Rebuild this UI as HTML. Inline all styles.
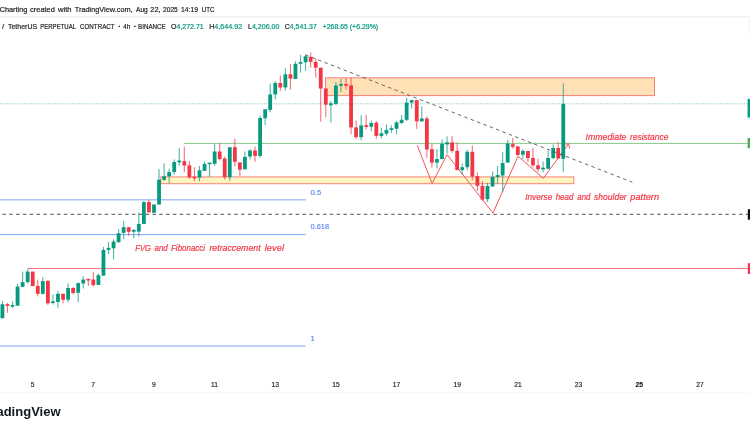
<!DOCTYPE html>
<html><head><meta charset="utf-8">
<style>
html,body{margin:0;padding:0;background:#fff;}
body{width:750px;height:430px;overflow:hidden;font-family:"Liberation Sans",sans-serif;}
svg{display:block;font-family:"Liberation Sans",sans-serif;will-change:transform;}
</style></head><body>
<svg width="750" height="430" viewBox="0 0 750 430">
<rect width="750" height="430" fill="#fff"/>
<!-- separators -->
<rect x="0" y="16.4" width="750" height="1" fill="#e9eaee"/>
<line x1="0" y1="392.5" x2="750" y2="392.5" stroke="#f0f2f5" stroke-width="1" stroke-dasharray="1 1"/>
<rect x="748.8" y="20" width="2" height="14" fill="#f0f3fa"/>
<!-- header -->
<text x="-0.3" y="12" font-size="7.9" fill="#262626" stroke="#262626" stroke-width="0.22" textLength="27.6" lengthAdjust="spacingAndGlyphs">Charting</text>
<text x="30.1" y="12" font-size="7.9" fill="#262626" stroke="#262626" stroke-width="0.22" textLength="24.8" lengthAdjust="spacingAndGlyphs">created</text>
<text x="58.1" y="12" font-size="7.9" fill="#262626" stroke="#262626" stroke-width="0.22" textLength="13.5" lengthAdjust="spacingAndGlyphs">with</text>
<text x="74.8" y="12" font-size="7.9" fill="#262626" stroke="#262626" stroke-width="0.22" textLength="57.8" lengthAdjust="spacingAndGlyphs">TradingView.com,</text>
<text x="136.0" y="12" font-size="7.9" fill="#262626" stroke="#262626" stroke-width="0.22" textLength="11.8" lengthAdjust="spacingAndGlyphs">Aug</text>
<text x="150.3" y="12" font-size="7.9" fill="#262626" stroke="#262626" stroke-width="0.22" textLength="10.3" lengthAdjust="spacingAndGlyphs">22,</text>
<text x="163.1" y="12" font-size="7.9" fill="#262626" stroke="#262626" stroke-width="0.22" textLength="14.7" lengthAdjust="spacingAndGlyphs">2025</text>
<text x="181.1" y="12" font-size="7.9" fill="#262626" stroke="#262626" stroke-width="0.22" textLength="16.9" lengthAdjust="spacingAndGlyphs">14:19</text>
<text x="201.7" y="12" font-size="7.9" fill="#262626" stroke="#262626" stroke-width="0.22" textLength="12.7" lengthAdjust="spacingAndGlyphs">UTC</text>
<text x="2.0" y="28.8" font-size="7.9" fill="#262626" stroke="#262626" stroke-width="0.22">/</text>
<text x="8.0" y="28.8" font-size="7.9" fill="#262626" stroke="#262626" stroke-width="0.22" textLength="29.1" lengthAdjust="spacingAndGlyphs">TetherUS</text>
<text x="40.2" y="28.8" font-size="7.9" fill="#262626" stroke="#262626" stroke-width="0.22" textLength="35.9" lengthAdjust="spacingAndGlyphs">PERPETUAL</text>
<text x="80.0" y="28.8" font-size="7.9" fill="#262626" stroke="#262626" stroke-width="0.22" textLength="34.6" lengthAdjust="spacingAndGlyphs">CONTRACT</text>
<text x="123.2" y="28.8" font-size="7.9" fill="#262626" stroke="#262626" stroke-width="0.22" textLength="6.9" lengthAdjust="spacingAndGlyphs">4h</text>
<text x="138.1" y="28.8" font-size="7.9" fill="#262626" stroke="#262626" stroke-width="0.22" textLength="27.6" lengthAdjust="spacingAndGlyphs">BINANCE</text>
<rect x="118.5" y="25.7" width="1.4" height="1.4" fill="#262626"/><rect x="134.2" y="25.7" width="1.4" height="1.4" fill="#262626"/>
<text x="171.1" y="28.8" font-size="7.9" fill="#262626" stroke="#262626" stroke-width="0.22" textLength="32.6" lengthAdjust="spacingAndGlyphs">O<tspan fill="#089981" stroke="#089981">4,272.71</tspan></text>
<text x="209.2" y="28.8" font-size="7.9" fill="#262626" stroke="#262626" stroke-width="0.22" textLength="32.9" lengthAdjust="spacingAndGlyphs">H<tspan fill="#089981" stroke="#089981">4,644.92</tspan></text>
<text x="248" y="28.8" font-size="7.9" fill="#262626" stroke="#262626" stroke-width="0.22" textLength="31.5" lengthAdjust="spacingAndGlyphs">L<tspan fill="#089981" stroke="#089981">4,206.00</tspan></text>
<text x="284.8" y="28.8" font-size="7.9" fill="#262626" stroke="#262626" stroke-width="0.22" textLength="32" lengthAdjust="spacingAndGlyphs">C<tspan fill="#089981" stroke="#089981">4,541.37</tspan></text>
<text x="322.7" y="28.8" font-size="7.9" fill="#089981" stroke="#089981" stroke-width="0.22" textLength="55.4" lengthAdjust="spacingAndGlyphs">+268.65 (+6.29%)</text>


<!-- zones -->
<rect x="325.5" y="77.8" width="329" height="17.8" fill="#ff9800" fill-opacity="0.29" stroke="#f23645" stroke-opacity="0.6" stroke-width="1"/>
<rect x="160.8" y="176.9" width="413" height="6.8" fill="#ffd600" fill-opacity="0.25" stroke="#f23645" stroke-opacity="0.6" stroke-width="1"/>

<!-- horizontal lines -->
<line x1="0" y1="103.8" x2="748" y2="103.8" stroke="#089981" stroke-width="1" stroke-dasharray="1 1.4" opacity="0.55"/>
<line x1="184" y1="143.4" x2="748" y2="143.4" stroke="#86c989" stroke-width="1"/>
<line x1="0" y1="199.85" x2="305.8" y2="199.85" stroke="#7fa4f6" stroke-width="1"/>
<line x1="0" y1="234.6" x2="305.8" y2="234.6" stroke="#7fa4f6" stroke-width="1"/>
<line x1="0" y1="346" x2="305.8" y2="346" stroke="#7fa4f6" stroke-width="1"/>
<line x1="2.4" y1="214.3" x2="748" y2="214.3" stroke="#505050" stroke-width="1" stroke-dasharray="3.5 3.32"/>
<line x1="27.7" y1="268.6" x2="748" y2="268.6" stroke="#f4707b" stroke-width="1"/>

<!-- fib labels -->
<text x="310.6" y="195" font-size="7.6" fill="#5585f2" stroke="#5585f2" stroke-width="0.15">0.5</text>
<text x="310.6" y="229.4" font-size="7.6" fill="#5585f2" stroke="#5585f2" stroke-width="0.15" textLength="18.5" lengthAdjust="spacingAndGlyphs">0.618</text>
<text x="310.6" y="340.9" font-size="7.6" fill="#5585f2" stroke="#5585f2" stroke-width="0.15">1</text>

<!-- pattern -->
<polyline points="417.3,145.4 432.1,183.4 447.1,154.7 493,213.1 518,156.2 543.3,178.3 568.6,143.8" fill="none" stroke="#f4545f" stroke-width="1"/>
<polyline points="565.7,144.2 568.6,143.8 569.8,148.6" fill="none" stroke="#f4545f" stroke-width="1"/>

<!-- candles -->
<rect x="1.85" y="300.9" width="1.1" height="17.8" fill="#089981" opacity="0.7"/>
<rect x="0.50" y="304.3" width="3.8" height="13.8" fill="#089981"/>
<rect x="6.90" y="302.9" width="1.1" height="9.9" fill="#f23645" opacity="0.7"/>
<rect x="5.55" y="304.2" width="3.8" height="1.7" fill="#f23645"/>
<rect x="11.96" y="301.3" width="1.1" height="6.9" fill="#089981" opacity="0.7"/>
<rect x="10.61" y="305.0" width="3.8" height="1.7" fill="#089981"/>
<rect x="17.01" y="283.5" width="1.1" height="22.2" fill="#089981" opacity="0.7"/>
<rect x="15.66" y="286.5" width="3.8" height="19.2" fill="#089981"/>
<rect x="22.06" y="271.6" width="1.1" height="15.3" fill="#089981" opacity="0.7"/>
<rect x="20.71" y="282.1" width="3.8" height="4.8" fill="#089981"/>
<rect x="27.11" y="268.7" width="1.1" height="14.8" fill="#089981" opacity="0.7"/>
<rect x="25.77" y="271.6" width="3.8" height="10.5" fill="#089981"/>
<rect x="32.17" y="271.6" width="1.1" height="14.5" fill="#f23645" opacity="0.7"/>
<rect x="30.82" y="271.6" width="3.8" height="14.5" fill="#f23645"/>
<rect x="37.22" y="279.6" width="1.1" height="16.8" fill="#f23645" opacity="0.7"/>
<rect x="35.87" y="285.9" width="3.8" height="7.9" fill="#f23645"/>
<rect x="42.27" y="277.2" width="1.1" height="17.2" fill="#089981" opacity="0.7"/>
<rect x="40.92" y="281.1" width="3.8" height="12.7" fill="#089981"/>
<rect x="47.33" y="280.1" width="1.1" height="24.8" fill="#f23645" opacity="0.7"/>
<rect x="45.98" y="280.9" width="3.8" height="22.4" fill="#f23645"/>
<rect x="52.38" y="294.4" width="1.1" height="9.9" fill="#089981" opacity="0.7"/>
<rect x="51.03" y="301.3" width="3.8" height="1.7" fill="#089981"/>
<rect x="57.43" y="291.0" width="1.1" height="16.8" fill="#089981" opacity="0.7"/>
<rect x="56.08" y="293.8" width="3.8" height="8.1" fill="#089981"/>
<rect x="62.49" y="293.8" width="1.1" height="9.5" fill="#f23645" opacity="0.7"/>
<rect x="61.14" y="293.8" width="3.8" height="5.9" fill="#f23645"/>
<rect x="67.54" y="283.5" width="1.1" height="18.8" fill="#089981" opacity="0.7"/>
<rect x="66.19" y="288.0" width="3.8" height="11.7" fill="#089981"/>
<rect x="72.59" y="287.0" width="1.1" height="7.4" fill="#f23645" opacity="0.7"/>
<rect x="71.24" y="288.0" width="3.8" height="5.0" fill="#f23645"/>
<rect x="77.65" y="282.5" width="1.1" height="19.4" fill="#089981" opacity="0.7"/>
<rect x="76.30" y="283.1" width="3.8" height="9.7" fill="#089981"/>
<rect x="82.70" y="276.2" width="1.1" height="12.3" fill="#089981" opacity="0.7"/>
<rect x="81.35" y="279.6" width="3.8" height="3.9" fill="#089981"/>
<rect x="87.75" y="279.2" width="1.1" height="6.7" fill="#f23645" opacity="0.7"/>
<rect x="86.40" y="278.8" width="3.8" height="1.7" fill="#f23645"/>
<rect x="92.80" y="272.2" width="1.1" height="14.3" fill="#f23645" opacity="0.7"/>
<rect x="91.45" y="279.6" width="3.8" height="5.5" fill="#f23645"/>
<rect x="97.86" y="273.6" width="1.1" height="11.3" fill="#089981" opacity="0.7"/>
<rect x="96.51" y="275.2" width="3.8" height="9.7" fill="#089981"/>
<rect x="102.91" y="246.9" width="1.1" height="28.7" fill="#089981" opacity="0.7"/>
<rect x="101.56" y="249.9" width="3.8" height="25.7" fill="#089981"/>
<rect x="107.96" y="242.0" width="1.1" height="12.2" fill="#089981" opacity="0.7"/>
<rect x="106.61" y="247.9" width="3.8" height="2.0" fill="#089981"/>
<rect x="113.02" y="239.5" width="1.1" height="19.9" fill="#089981" opacity="0.7"/>
<rect x="111.67" y="241.5" width="3.8" height="6.8" fill="#089981"/>
<rect x="118.07" y="229.2" width="1.1" height="13.8" fill="#089981" opacity="0.7"/>
<rect x="116.72" y="233.2" width="3.8" height="8.9" fill="#089981"/>
<rect x="123.12" y="220.9" width="1.1" height="18.2" fill="#089981" opacity="0.7"/>
<rect x="121.77" y="227.2" width="3.8" height="5.6" fill="#089981"/>
<rect x="128.17" y="227.2" width="1.1" height="8.9" fill="#f23645" opacity="0.7"/>
<rect x="126.82" y="227.2" width="3.8" height="4.6" fill="#f23645"/>
<rect x="133.23" y="228.8" width="1.1" height="9.3" fill="#089981" opacity="0.7"/>
<rect x="131.88" y="230.0" width="3.8" height="1.7" fill="#089981"/>
<rect x="138.28" y="212.4" width="1.1" height="24.3" fill="#089981" opacity="0.7"/>
<rect x="136.93" y="223.9" width="3.8" height="7.7" fill="#089981"/>
<rect x="143.33" y="200.9" width="1.1" height="23.0" fill="#089981" opacity="0.7"/>
<rect x="141.98" y="202.1" width="3.8" height="21.8" fill="#089981"/>
<rect x="148.39" y="200.1" width="1.1" height="12.3" fill="#f23645" opacity="0.7"/>
<rect x="147.04" y="202.1" width="3.8" height="10.3" fill="#f23645"/>
<rect x="153.44" y="204.5" width="1.1" height="8.3" fill="#089981" opacity="0.7"/>
<rect x="152.09" y="204.5" width="3.8" height="8.3" fill="#089981"/>
<rect x="158.49" y="169.1" width="1.1" height="35.4" fill="#089981" opacity="0.7"/>
<rect x="157.14" y="179.7" width="3.8" height="24.8" fill="#089981"/>
<rect x="163.55" y="163.2" width="1.1" height="17.6" fill="#089981" opacity="0.7"/>
<rect x="162.20" y="176.3" width="3.8" height="3.5" fill="#089981"/>
<rect x="168.60" y="168.6" width="1.1" height="14.6" fill="#089981" opacity="0.7"/>
<rect x="167.25" y="172.1" width="3.8" height="4.2" fill="#089981"/>
<rect x="173.65" y="159.4" width="1.1" height="15.5" fill="#089981" opacity="0.7"/>
<rect x="172.30" y="162.0" width="3.8" height="10.1" fill="#089981"/>
<rect x="178.70" y="148.0" width="1.1" height="17.7" fill="#089981" opacity="0.7"/>
<rect x="177.35" y="160.6" width="3.8" height="1.7" fill="#089981"/>
<rect x="183.76" y="146.6" width="1.1" height="25.5" fill="#f23645" opacity="0.7"/>
<rect x="182.41" y="161.2" width="3.8" height="4.3" fill="#f23645"/>
<rect x="188.81" y="161.0" width="1.1" height="17.8" fill="#f23645" opacity="0.7"/>
<rect x="187.46" y="165.4" width="3.8" height="11.9" fill="#f23645"/>
<rect x="193.86" y="167.2" width="1.1" height="14.1" fill="#f23645" opacity="0.7"/>
<rect x="192.51" y="176.7" width="3.8" height="1.7" fill="#f23645"/>
<rect x="198.92" y="166.0" width="1.1" height="15.3" fill="#089981" opacity="0.7"/>
<rect x="197.57" y="170.3" width="3.8" height="7.2" fill="#089981"/>
<rect x="203.97" y="161.7" width="1.1" height="9.1" fill="#089981" opacity="0.7"/>
<rect x="202.62" y="163.9" width="3.8" height="6.9" fill="#089981"/>
<rect x="209.02" y="163.0" width="1.1" height="13.9" fill="#089981" opacity="0.7"/>
<rect x="207.67" y="162.6" width="3.8" height="1.7" fill="#089981"/>
<rect x="214.08" y="143.6" width="1.1" height="22.4" fill="#089981" opacity="0.7"/>
<rect x="212.73" y="151.5" width="3.8" height="12.3" fill="#089981"/>
<rect x="219.13" y="143.2" width="1.1" height="17.2" fill="#f23645" opacity="0.7"/>
<rect x="217.78" y="151.5" width="3.8" height="7.5" fill="#f23645"/>
<rect x="224.18" y="156.5" width="1.1" height="23.1" fill="#f23645" opacity="0.7"/>
<rect x="222.83" y="158.5" width="3.8" height="18.7" fill="#f23645"/>
<rect x="229.23" y="147.2" width="1.1" height="33.6" fill="#089981" opacity="0.7"/>
<rect x="227.88" y="147.2" width="3.8" height="30.0" fill="#089981"/>
<rect x="234.29" y="138.7" width="1.1" height="27.7" fill="#f23645" opacity="0.7"/>
<rect x="232.94" y="147.2" width="3.8" height="14.6" fill="#f23645"/>
<rect x="239.34" y="162.4" width="1.1" height="13.9" fill="#f23645" opacity="0.7"/>
<rect x="237.99" y="162.4" width="3.8" height="7.3" fill="#f23645"/>
<rect x="244.39" y="151.5" width="1.1" height="17.8" fill="#089981" opacity="0.7"/>
<rect x="243.04" y="156.9" width="3.8" height="12.4" fill="#089981"/>
<rect x="249.45" y="149.2" width="1.1" height="10.2" fill="#089981" opacity="0.7"/>
<rect x="248.10" y="150.5" width="3.8" height="6.0" fill="#089981"/>
<rect x="254.50" y="146.6" width="1.1" height="15.2" fill="#f23645" opacity="0.7"/>
<rect x="253.15" y="150.5" width="3.8" height="5.4" fill="#f23645"/>
<rect x="259.55" y="115.8" width="1.1" height="41.7" fill="#089981" opacity="0.7"/>
<rect x="258.20" y="118.0" width="3.8" height="37.9" fill="#089981"/>
<rect x="264.61" y="109.3" width="1.1" height="15.8" fill="#089981" opacity="0.7"/>
<rect x="263.26" y="109.3" width="3.8" height="8.9" fill="#089981"/>
<rect x="269.66" y="83.6" width="1.1" height="28.6" fill="#089981" opacity="0.7"/>
<rect x="268.31" y="94.4" width="3.8" height="15.5" fill="#089981"/>
<rect x="274.71" y="81.0" width="1.1" height="18.4" fill="#089981" opacity="0.7"/>
<rect x="273.36" y="83.0" width="3.8" height="11.4" fill="#089981"/>
<rect x="279.76" y="75.3" width="1.1" height="15.6" fill="#f23645" opacity="0.7"/>
<rect x="278.42" y="83.0" width="3.8" height="4.5" fill="#f23645"/>
<rect x="284.82" y="68.3" width="1.1" height="22.2" fill="#089981" opacity="0.7"/>
<rect x="283.47" y="74.3" width="3.8" height="13.2" fill="#089981"/>
<rect x="289.87" y="64.2" width="1.1" height="25.3" fill="#f23645" opacity="0.7"/>
<rect x="288.52" y="74.3" width="3.8" height="4.3" fill="#f23645"/>
<rect x="294.92" y="61.2" width="1.1" height="17.8" fill="#089981" opacity="0.7"/>
<rect x="293.57" y="63.8" width="3.8" height="15.2" fill="#089981"/>
<rect x="299.98" y="54.9" width="1.1" height="17.8" fill="#089981" opacity="0.7"/>
<rect x="298.63" y="62.1" width="3.8" height="1.7" fill="#089981"/>
<rect x="305.03" y="54.5" width="1.1" height="16.2" fill="#089981" opacity="0.7"/>
<rect x="303.68" y="56.3" width="3.8" height="5.9" fill="#089981"/>
<rect x="310.08" y="52.5" width="1.1" height="15.2" fill="#f23645" opacity="0.7"/>
<rect x="308.73" y="56.9" width="3.8" height="4.9" fill="#f23645"/>
<rect x="315.14" y="58.4" width="1.1" height="19.2" fill="#f23645" opacity="0.7"/>
<rect x="313.79" y="61.8" width="3.8" height="5.9" fill="#f23645"/>
<rect x="320.19" y="67.7" width="1.1" height="54.0" fill="#f23645" opacity="0.7"/>
<rect x="318.84" y="67.7" width="3.8" height="20.8" fill="#f23645"/>
<rect x="325.24" y="88.5" width="1.1" height="28.7" fill="#f23645" opacity="0.7"/>
<rect x="323.89" y="88.5" width="3.8" height="16.2" fill="#f23645"/>
<rect x="330.29" y="101.0" width="1.1" height="21.5" fill="#089981" opacity="0.7"/>
<rect x="328.94" y="103.3" width="3.8" height="2.0" fill="#089981"/>
<rect x="335.35" y="82.2" width="1.1" height="23.1" fill="#089981" opacity="0.7"/>
<rect x="334.00" y="85.5" width="3.8" height="18.4" fill="#089981"/>
<rect x="340.40" y="79.0" width="1.1" height="13.1" fill="#089981" opacity="0.7"/>
<rect x="339.05" y="84.0" width="3.8" height="1.7" fill="#089981"/>
<rect x="345.45" y="78.2" width="1.1" height="11.3" fill="#f23645" opacity="0.7"/>
<rect x="344.10" y="84.0" width="3.8" height="1.7" fill="#f23645"/>
<rect x="350.51" y="77.8" width="1.1" height="56.5" fill="#f23645" opacity="0.7"/>
<rect x="349.16" y="85.4" width="3.8" height="42.0" fill="#f23645"/>
<rect x="355.56" y="120.4" width="1.1" height="18.4" fill="#f23645" opacity="0.7"/>
<rect x="354.21" y="127.4" width="3.8" height="9.8" fill="#f23645"/>
<rect x="360.61" y="115.1" width="1.1" height="25.1" fill="#089981" opacity="0.7"/>
<rect x="359.26" y="125.4" width="3.8" height="11.8" fill="#089981"/>
<rect x="365.67" y="115.1" width="1.1" height="14.2" fill="#f23645" opacity="0.7"/>
<rect x="364.32" y="125.2" width="3.8" height="1.7" fill="#f23645"/>
<rect x="370.72" y="120.4" width="1.1" height="10.9" fill="#089981" opacity="0.7"/>
<rect x="369.37" y="123.0" width="3.8" height="3.8" fill="#089981"/>
<rect x="375.77" y="121.0" width="1.1" height="17.8" fill="#f23645" opacity="0.7"/>
<rect x="374.42" y="122.8" width="3.8" height="13.1" fill="#f23645"/>
<rect x="380.82" y="127.8" width="1.1" height="10.4" fill="#089981" opacity="0.7"/>
<rect x="379.48" y="133.3" width="3.8" height="2.6" fill="#089981"/>
<rect x="385.88" y="124.4" width="1.1" height="11.3" fill="#089981" opacity="0.7"/>
<rect x="384.53" y="129.9" width="3.8" height="3.8" fill="#089981"/>
<rect x="390.93" y="125.4" width="1.1" height="7.5" fill="#089981" opacity="0.7"/>
<rect x="389.58" y="128.2" width="3.8" height="1.7" fill="#089981"/>
<rect x="395.98" y="121.0" width="1.1" height="13.3" fill="#089981" opacity="0.7"/>
<rect x="394.63" y="122.4" width="3.8" height="6.3" fill="#089981"/>
<rect x="401.04" y="115.1" width="1.1" height="8.7" fill="#089981" opacity="0.7"/>
<rect x="399.69" y="119.8" width="3.8" height="3.2" fill="#089981"/>
<rect x="406.09" y="97.7" width="1.1" height="23.3" fill="#089981" opacity="0.7"/>
<rect x="404.74" y="102.6" width="3.8" height="17.2" fill="#089981"/>
<rect x="411.14" y="99.7" width="1.1" height="8.9" fill="#089981" opacity="0.7"/>
<rect x="409.79" y="100.1" width="3.8" height="2.5" fill="#089981"/>
<rect x="416.20" y="100.1" width="1.1" height="28.8" fill="#f23645" opacity="0.7"/>
<rect x="414.85" y="100.1" width="3.8" height="21.3" fill="#f23645"/>
<rect x="421.25" y="106.2" width="1.1" height="15.2" fill="#089981" opacity="0.7"/>
<rect x="419.90" y="118.5" width="3.8" height="2.9" fill="#089981"/>
<rect x="426.30" y="116.5" width="1.1" height="41.2" fill="#f23645" opacity="0.7"/>
<rect x="424.95" y="118.5" width="3.8" height="31.0" fill="#f23645"/>
<rect x="431.35" y="143.8" width="1.1" height="23.8" fill="#f23645" opacity="0.7"/>
<rect x="430.00" y="149.2" width="3.8" height="13.4" fill="#f23645"/>
<rect x="436.41" y="149.2" width="1.1" height="19.4" fill="#089981" opacity="0.7"/>
<rect x="435.06" y="159.1" width="3.8" height="3.5" fill="#089981"/>
<rect x="441.46" y="139.4" width="1.1" height="19.7" fill="#089981" opacity="0.7"/>
<rect x="440.11" y="143.9" width="3.8" height="15.2" fill="#089981"/>
<rect x="446.51" y="136.3" width="1.1" height="17.4" fill="#089981" opacity="0.7"/>
<rect x="445.16" y="142.4" width="3.8" height="2.0" fill="#089981"/>
<rect x="451.57" y="136.1" width="1.1" height="16.6" fill="#f23645" opacity="0.7"/>
<rect x="450.22" y="142.4" width="3.8" height="8.5" fill="#f23645"/>
<rect x="456.62" y="142.5" width="1.1" height="27.6" fill="#f23645" opacity="0.7"/>
<rect x="455.27" y="150.8" width="3.8" height="19.3" fill="#f23645"/>
<rect x="461.67" y="163.6" width="1.1" height="10.9" fill="#089981" opacity="0.7"/>
<rect x="460.32" y="167.2" width="3.8" height="2.9" fill="#089981"/>
<rect x="466.73" y="149.8" width="1.1" height="20.3" fill="#089981" opacity="0.7"/>
<rect x="465.38" y="151.8" width="3.8" height="15.4" fill="#089981"/>
<rect x="471.78" y="145.4" width="1.1" height="35.0" fill="#f23645" opacity="0.7"/>
<rect x="470.43" y="151.8" width="3.8" height="24.7" fill="#f23645"/>
<rect x="476.83" y="172.5" width="1.1" height="18.4" fill="#f23645" opacity="0.7"/>
<rect x="475.48" y="176.1" width="3.8" height="9.7" fill="#f23645"/>
<rect x="481.88" y="181.0" width="1.1" height="19.8" fill="#f23645" opacity="0.7"/>
<rect x="480.53" y="185.8" width="3.8" height="13.8" fill="#f23645"/>
<rect x="486.94" y="182.8" width="1.1" height="19.4" fill="#089981" opacity="0.7"/>
<rect x="485.59" y="186.0" width="3.8" height="13.2" fill="#089981"/>
<rect x="491.99" y="171.5" width="1.1" height="15.5" fill="#089981" opacity="0.7"/>
<rect x="490.64" y="176.9" width="3.8" height="9.5" fill="#089981"/>
<rect x="497.04" y="166.0" width="1.1" height="17.8" fill="#089981" opacity="0.7"/>
<rect x="495.69" y="175.1" width="3.8" height="2.0" fill="#089981"/>
<rect x="502.10" y="152.2" width="1.1" height="40.1" fill="#089981" opacity="0.7"/>
<rect x="500.75" y="163.0" width="3.8" height="12.5" fill="#089981"/>
<rect x="507.15" y="139.9" width="1.1" height="22.7" fill="#089981" opacity="0.7"/>
<rect x="505.80" y="143.6" width="3.8" height="19.0" fill="#089981"/>
<rect x="512.20" y="137.9" width="1.1" height="10.9" fill="#f23645" opacity="0.7"/>
<rect x="510.85" y="144.2" width="3.8" height="2.6" fill="#f23645"/>
<rect x="517.26" y="146.4" width="1.1" height="9.3" fill="#f23645" opacity="0.7"/>
<rect x="515.91" y="146.4" width="3.8" height="8.6" fill="#f23645"/>
<rect x="522.31" y="149.2" width="1.1" height="10.2" fill="#089981" opacity="0.7"/>
<rect x="520.96" y="150.9" width="3.8" height="3.8" fill="#089981"/>
<rect x="527.36" y="151.0" width="1.1" height="11.5" fill="#f23645" opacity="0.7"/>
<rect x="526.01" y="151.0" width="3.8" height="7.1" fill="#f23645"/>
<rect x="532.41" y="147.8" width="1.1" height="19.7" fill="#f23645" opacity="0.7"/>
<rect x="531.06" y="158.0" width="3.8" height="7.3" fill="#f23645"/>
<rect x="537.47" y="158.8" width="1.1" height="13.0" fill="#f23645" opacity="0.7"/>
<rect x="536.12" y="165.3" width="3.8" height="3.9" fill="#f23645"/>
<rect x="542.52" y="161.4" width="1.1" height="11.0" fill="#089981" opacity="0.7"/>
<rect x="541.17" y="167.7" width="3.8" height="1.7" fill="#089981"/>
<rect x="547.57" y="150.8" width="1.1" height="18.6" fill="#089981" opacity="0.7"/>
<rect x="546.22" y="158.0" width="3.8" height="10.7" fill="#089981"/>
<rect x="552.63" y="144.4" width="1.1" height="14.8" fill="#089981" opacity="0.7"/>
<rect x="551.28" y="148.0" width="3.8" height="10.1" fill="#089981"/>
<rect x="557.68" y="142.3" width="1.1" height="16.9" fill="#f23645" opacity="0.7"/>
<rect x="556.33" y="148.0" width="3.8" height="10.4" fill="#f23645"/>
<rect x="562.73" y="83.3" width="1.1" height="88.9" fill="#089981" opacity="0.7"/>
<rect x="561.38" y="103.9" width="3.8" height="54.9" fill="#089981"/>

<!-- trend dashed -->
<line x1="305.4" y1="54.9" x2="632.3" y2="182.2" stroke="#555" stroke-width="0.9" stroke-dasharray="3.5 3.32"/>


<!-- annotations -->
<text x="585.5" y="140.2" font-size="9.8" fill="#f23645" font-style="italic" stroke="#f23645" stroke-width="0.2" textLength="41.0" lengthAdjust="spacingAndGlyphs">Immediate</text>
<text x="629.9" y="140.2" font-size="9.8" fill="#f23645" font-style="italic" stroke="#f23645" stroke-width="0.2" textLength="38.6" lengthAdjust="spacingAndGlyphs">resistance</text>
<text x="525.2" y="200.0" font-size="9.8" fill="#f23645" font-style="italic" stroke="#f23645" stroke-width="0.2" textLength="27.1" lengthAdjust="spacingAndGlyphs">Inverse</text>
<text x="555.7" y="200.0" font-size="9.8" fill="#f23645" font-style="italic" stroke="#f23645" stroke-width="0.2" textLength="17.7" lengthAdjust="spacingAndGlyphs">head</text>
<text x="577.3" y="200.0" font-size="9.8" fill="#f23645" font-style="italic" stroke="#f23645" stroke-width="0.2" textLength="13.2" lengthAdjust="spacingAndGlyphs">and</text>
<text x="594.1" y="200.0" font-size="9.8" fill="#f23645" font-style="italic" stroke="#f23645" stroke-width="0.2" textLength="32.6" lengthAdjust="spacingAndGlyphs">shoulder</text>
<text x="630.3" y="200.0" font-size="9.8" fill="#f23645" font-style="italic" stroke="#f23645" stroke-width="0.2" textLength="28.8" lengthAdjust="spacingAndGlyphs">pattern</text>
<text x="135.3" y="250.5" font-size="9.8" fill="#f23645" font-style="italic" stroke="#f23645" stroke-width="0.2" textLength="15.6" lengthAdjust="spacingAndGlyphs">FVG</text>
<text x="154.5" y="250.5" font-size="9.8" fill="#f23645" font-style="italic" stroke="#f23645" stroke-width="0.2" textLength="13.3" lengthAdjust="spacingAndGlyphs">and</text>
<text x="171.0" y="250.5" font-size="9.8" fill="#f23645" font-style="italic" stroke="#f23645" stroke-width="0.2" textLength="34.1" lengthAdjust="spacingAndGlyphs">Fibonacci</text>
<text x="209.4" y="250.5" font-size="9.8" fill="#f23645" font-style="italic" stroke="#f23645" stroke-width="0.2" textLength="51.2" lengthAdjust="spacingAndGlyphs">retraccement</text>
<text x="264.8" y="250.5" font-size="9.8" fill="#f23645" font-style="italic" stroke="#f23645" stroke-width="0.2" textLength="19.2" lengthAdjust="spacingAndGlyphs">level</text>

<!-- right axis tags -->
<rect x="747.6" y="98.8" width="3" height="18.8" fill="#089981"/>
<rect x="747.6" y="138" width="3" height="10.2" fill="#4caf50"/>
<rect x="747.8" y="209.2" width="3" height="10.5" fill="#111"/>
<rect x="747.8" y="263.2" width="3" height="10.8" fill="#f23645"/>

<!-- date labels -->
<text transform="translate(32.5,386.9) scale(0.86,1)" text-anchor="middle" font-size="7.8" fill="#131722" stroke="#131722" stroke-width="0.15">5</text>
<text transform="translate(93.2,386.9) scale(0.86,1)" text-anchor="middle" font-size="7.8" fill="#131722" stroke="#131722" stroke-width="0.15">7</text>
<text transform="translate(153.9,386.9) scale(0.86,1)" text-anchor="middle" font-size="7.8" fill="#131722" stroke="#131722" stroke-width="0.15">9</text>
<text transform="translate(214.5,386.9) scale(0.86,1)" text-anchor="middle" font-size="7.8" fill="#131722" stroke="#131722" stroke-width="0.15">11</text>
<text transform="translate(275.2,386.9) scale(0.86,1)" text-anchor="middle" font-size="7.8" fill="#131722" stroke="#131722" stroke-width="0.15">13</text>
<text transform="translate(335.9,386.9) scale(0.86,1)" text-anchor="middle" font-size="7.8" fill="#131722" stroke="#131722" stroke-width="0.15">15</text>
<text transform="translate(396.6,386.9) scale(0.86,1)" text-anchor="middle" font-size="7.8" fill="#131722" stroke="#131722" stroke-width="0.15">17</text>
<text transform="translate(457.3,386.9) scale(0.86,1)" text-anchor="middle" font-size="7.8" fill="#131722" stroke="#131722" stroke-width="0.15">19</text>
<text transform="translate(517.9,386.9) scale(0.86,1)" text-anchor="middle" font-size="7.8" fill="#131722" stroke="#131722" stroke-width="0.15">21</text>
<text transform="translate(578.6,386.9) scale(0.86,1)" text-anchor="middle" font-size="7.8" fill="#131722" stroke="#131722" stroke-width="0.15">23</text>
<text transform="translate(639.3,386.9) scale(0.86,1)" text-anchor="middle" font-size="7.8" font-weight="bold" fill="#131722" stroke="#131722" stroke-width="0.15">25</text>
<text transform="translate(700.0,386.9) scale(0.86,1)" text-anchor="middle" font-size="7.8" fill="#131722" stroke="#131722" stroke-width="0.15">27</text>

<!-- logo -->
<text x="-3.6" y="415.6" font-size="12.7" font-weight="bold" fill="#131722" textLength="64.2" lengthAdjust="spacingAndGlyphs">adingView</text>
</svg>
</body></html>
